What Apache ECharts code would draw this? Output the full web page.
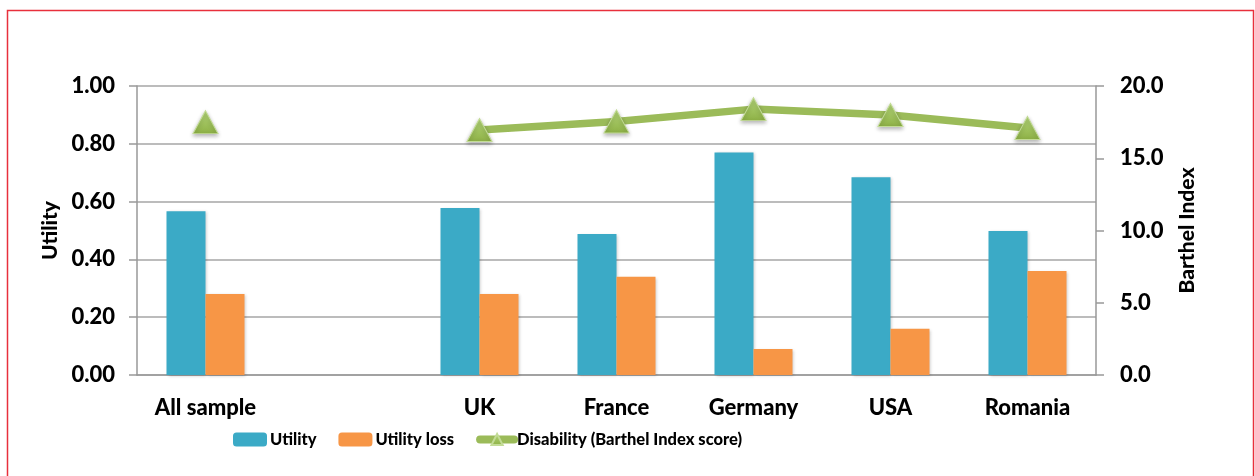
<!DOCTYPE html>
<html>
<head>
<meta charset="utf-8">
<script src="https://cdn.jsdelivr.net/npm/echarts@6/dist/echarts.min.js"></script>
<style>
  html, body { margin: 0; padding: 0; background: #fff; }
  #chart { width: 1255px; height: 476px; }
</style>
</head>
<body>
<div id="chart"></div>
<script>
var categories = ['All sample', '', 'UK', 'France', 'Germany', 'USA', 'Romania'];
var utility = [0.567, null, 0.578, 0.488, 0.77, 0.684, 0.498];
var utilityLoss = [0.28, null, 0.28, 0.34, 0.09, 0.16, 0.36];
var barthel = [17.5, null, 16.95, 17.55, 18.4, 18.0, 17.1];

var font = 'Lato';
var myChart = echarts.init(document.getElementById('chart'));
option = {
    animation: false,
    textStyle: { fontFamily: font },
    graphic: [
        {
            type: 'rect',
            shape: { x: 7.5, y: 10.5, width: 1246, height: 520 },
            style: { fill: 'none', stroke: '#E8303C', lineWidth: 1.5 }
        }
    ],
    grid: { left: 137, right: 159, top: 86, bottom: 101 },
    legend: {
        bottom: 28,
        left: 233,
        padding: 0,
        itemWidth: 34,
        itemHeight: 14,
        itemGap: 22,
        lineStyle: { width: 8, cap: 'round' },
        textStyle: { fontFamily: font, fontWeight: 900, fontSize: 16.5, color: '#000', padding: [0, 0, 0, -2] },
        data: ['Utility', 'Utility loss', 'Disability (Barthel Index score)']
    },
    xAxis: {
        type: 'category',
        data: categories,
        axisLine: { lineStyle: { color: '#999', width: 1.5 } },
        axisTick: { length: 7, lineStyle: { color: '#999', width: 1.5 } },
        axisLabel: { color: '#000', fontWeight: 900, fontSize: 22, margin: 22, interval: 0 }
    },
    yAxis: [
        {
            type: 'value',
            name: 'Utility',
            nameLocation: 'middle',
            nameGap: 65,
            nameRotate: 90,
            nameTextStyle: { color: '#000', fontWeight: 900, fontSize: 21 },
            min: 0,
            max: 1,
            interval: 0.2,
            axisLine: { show: true, lineStyle: { color: '#999', width: 1.5 } },
            axisTick: { show: true, length: 8, lineStyle: { color: '#999', width: 1.5 } },
            axisLabel: {
                color: '#000', fontWeight: 900, fontSize: 22, margin: 22,
                formatter: function (v) { return v.toFixed(2); }
            },
            splitLine: { lineStyle: { color: '#A6A6A6', width: 1.5 } }
        },
        {
            type: 'value',
            name: 'Barthel Index',
            nameLocation: 'middle',
            nameGap: 81,
            nameRotate: 90,
            nameTextStyle: { color: '#000', fontWeight: 900, fontSize: 21 },
            min: 0,
            max: 20,
            interval: 5,
            axisLine: { show: true, lineStyle: { color: '#999', width: 1.5 } },
            axisTick: { show: true, length: 8, lineStyle: { color: '#999', width: 1.5 } },
            axisLabel: {
                color: '#000', fontWeight: 900, fontSize: 22, margin: 24,
                formatter: function (v) { return v.toFixed(1); }
            },
            splitLine: { show: false }
        }
    ],
    series: [
        {
            name: 'Utility',
            type: 'bar',
            data: utility,
            barWidth: 39,
            barGap: '0%',
            itemStyle: {
                color: '#3BAAC6',
                shadowBlur: 3, shadowOffsetX: 1, shadowOffsetY: 1, shadowColor: 'rgba(0,0,0,0.2)'
            }
        },
        {
            name: 'Utility loss',
            type: 'bar',
            data: utilityLoss,
            barWidth: 39,
            barGap: '0%',
            itemStyle: {
                color: '#F79646',
                shadowBlur: 3, shadowOffsetX: 1, shadowOffsetY: 1, shadowColor: 'rgba(0,0,0,0.2)'
            }
        },
        {
            name: 'Disability (Barthel Index score)',
            type: 'line',
            yAxisIndex: 1,
            data: barthel,
            connectNulls: false,
            symbol: 'triangle',
            symbolSize: [25, 23],
            lineStyle: { color: '#9BBB59', width: 7.5 },
            itemStyle: {
                color: new echarts.graphic.LinearGradient(0, 0, 0, 1, [
                    { offset: 0, color: '#B5D77A' },
                    { offset: 1, color: '#8DB045' }
                ]),
                borderColor: '#C3DC96',
                borderWidth: 1,
                shadowBlur: 4, shadowOffsetY: 2, shadowColor: 'rgba(0,0,0,0.3)'
            },
            z: 5
        }
    ]
};
myChart.setOption(option);
</script>
</body>
</html>
